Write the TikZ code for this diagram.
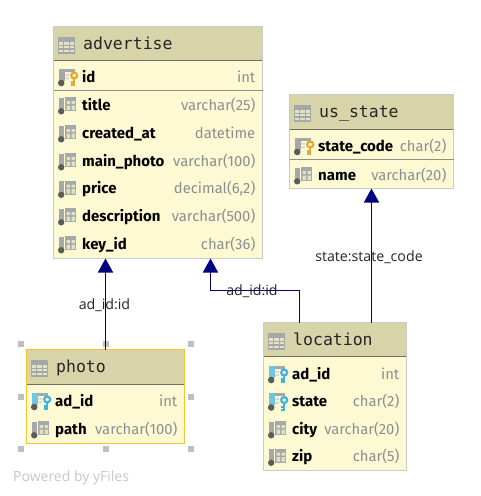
\documentclass[tikz,border=0pt]{standalone}
\usepackage{fontspec}
\setmainfont{Fira Sans}
\setmonofont{DejaVu Sans Mono}
\newfontfamily\labelfont{Open Sans}
\definecolor{headfill}{HTML}{D6D4A8}
\definecolor{bodyfill}{HTML}{FDF9D2}
\definecolor{tableedge}{HTML}{C8CBC8}
\definecolor{headline}{HTML}{6E6E62}
\definecolor{sepline}{HTML}{8E8E82}
\definecolor{picked}{HTML}{F5C52C}
\definecolor{typegray}{HTML}{8A8F92}
\definecolor{arrowblue}{HTML}{000080}
\definecolor{icongray}{HTML}{A4A8A6}
\definecolor{icondot}{HTML}{5C5C58}
\definecolor{pkkey}{HTML}{E3A73A}
\definecolor{fkkey}{HTML}{3FB4E0}
\definecolor{fkbar}{HTML}{6FC6E4}
\usetikzlibrary{arrows.meta}
\tikzset{
  tablebox/.style={draw=tableedge,fill=bodyfill,line width=1pt,inner sep=0pt,outer sep=0pt},
  headbox/.style={fill=headfill,inner sep=0pt,outer sep=0pt},
  headtext/.style={anchor=base west,inner sep=0pt,font=\ttfamily\fontsize{16.5}{16.5}\selectfont,text=black!85},
  fieldtext/.style={anchor=base west,inner sep=0pt,font=\bfseries\fontsize{15}{15}\selectfont},
  typetext/.style={anchor=base east,inner sep=0pt,font=\fontsize{14.8}{14.8}\selectfont,text=typegray},
  linktext/.style={inner sep=0pt,font=\labelfont\fontsize{14.2}{14.2}\selectfont,text=black!85},
  link/.style={draw=arrowblue,line width=1.6pt,-{Triangle[width=15pt,length=14pt]}},
  handle/.style={fill=black!25,draw=none,minimum size=6pt,inner sep=0pt},
  plainfield/.pic={
    \fill[icongray] (-8.7,-7.5) rectangle (-3.9,4);
    \fill[icondot] (-6.8,6.3) circle (3.2);
    \fill[icongray] (-2.7,-7.7) rectangle (8.3,6.3);
    \fill[bodyfill!70!icongray] (-1.5,-3.8) rectangle (2,-0.8) (3.5,-3.8) rectangle (7.2,-0.8)
      (-1.5,0.6) rectangle (2,5.2) (3.5,0.6) rectangle (7.2,5.2);
  },
  keyfield/.pic={
    \fill[#1] (-8.7,-8.3) rectangle (-3.2,3.7);
    \fill[icondot] (-6.8,6) circle (3.3);
    \fill[icongray] (-2.7,-8.3) rectangle (7,-5.3);
    \fill[icongray!50] (-2.7,-3.2) rectangle (1,-1.4) (-2.7,0.4) rectangle (1,2.2);
  },
  pkfield/.pic={
    \pic {keyfield=icongray};
    \draw[pkkey,line width=2.2pt] (6.2,-1.5) circle (3);
    \draw[pkkey,line width=2.4pt] (6.2,1.5) -- (6.2,9) (6.2,5.5) -- (3,5.5) (6.2,8.2) -- (3,8.2);
  },
  fkfield/.pic={
    \pic {keyfield=fkbar};
    \draw[fkkey,line width=2.2pt] (6.2,-1.5) circle (3);
    \draw[fkkey,line width=2.4pt] (6.2,1.5) -- (6.2,9) (6.2,5.5) -- (3,5.5) (6.2,8.2) -- (3,8.2);
  },
  tablelogo/.pic={
    \fill[icongray] (0,0) rectangle (17.5,17);
    \foreach \gx in {1,6.8,12.5} \foreach \gy in {5.5,9.3,13}
      \fill[headfill!65!white] (\gx,\gy) rectangle +(4.2,2.5);
  }
}
% table: name, left, top, right, bottom, header bottom, title
\newcommand{\dbtable}[7]{
  \node[tablebox,minimum width=#4pt-#2pt,minimum height=#5pt-#3pt] (#1) at ({(#2+#4)/2},{(#3+#5)/2}) {};
  \node[headbox,minimum width=#4pt-#2pt-1pt,minimum height=#6pt-#3pt-0.5pt] (#1-head) at ({(#2+#4)/2},{(#3+#6)/2+0.25}) {};
  \draw[headline,line width=1pt] (#1-head.south west) -- (#1-head.south east);
  \pic at (#2+4,#3+10) {tablelogo};
  \node[headtext] (#1-title) at (#2+29.5,#3+22.5) {#7};
}
% row of a table: table, left, right, y, number, name, type, icon
\newcommand{\dbfield}[8]{
  \pic at (#2+14.5,#4) {#8};
  \node[fieldtext] (#1-#5) at (#2+28.5,#4+5) {#6};
  \node[typetext] (#1-#5-type) at (#3-7,#4+5) {#7};
}
\begin{document}
\begin{tikzpicture}[x=1pt,y=-1pt]
\useasboundingbox (0,0) rectangle (480,496);
\fill[white] (0,0) rectangle (480,496);

% advertise
\dbtable{advertise}{53.5}{26.5}{262.5}{258.5}{60.5}{advertise}
\draw[sepline,line width=1pt] (advertise.west |- 0,90.5) -- (advertise.east |- 0,90.5);
\foreach \fname/\ftype/\fy/\ficon [count=\fnum] in {id/int/77/pkfield,title/varchar(25)/105/plainfield,
    created\_at/datetime/133/plainfield,main\_photo/varchar(100)/161/plainfield,
    price/{decimal(6,2)}/188.5/plainfield,description/varchar(500)/216/plainfield,
    key\_id/char(36)/244/plainfield}
  {\dbfield{advertise}{53.5}{262.5}{\fy}{\fnum}{\fname}{\ftype}{\ficon}}

% us_state
\dbtable{usstate}{289.5}{94.5}{453.5}{188.5}{129.5}{us\_state}
\draw[sepline,line width=1pt] (usstate.west |- 0,159.5) -- (usstate.east |- 0,159.5);
\foreach \fname/\ftype/\fy/\ficon [count=\fnum] in {state\_code/char(2)/146/pkfield,name/varchar(20)/175/plainfield}
  {\dbfield{usstate}{289.5}{453.5}{\fy}{\fnum}{\fname}{\ftype}{\ficon}}

% location
\dbtable{location}{263.5}{322.5}{406.5}{470.5}{356.5}{location}
\foreach \fname/\ftype/\fy/\ficon [count=\fnum] in {ad\_id/int/374/fkfield,state/char(2)/401.5/fkfield,
    city/varchar(20)/429/plainfield,zip/char(5)/456.5/plainfield}
  {\dbfield{location}{263.5}{406.5}{\fy}{\fnum}{\fname}{\ftype}{\ficon}}

% photo, the selected one
\dbtable{photo}{26.5}{349.5}{184.5}{443.5}{384.5}{photo}
\draw[picked,line width=1pt] (photo.south west) rectangle (photo.north east);
\foreach \fname/\ftype/\fy/\ficon [count=\fnum] in {ad\_id/int/401/fkfield,path/varchar(100)/429/plainfield}
  {\dbfield{photo}{26.5}{184.5}{\fy}{\fnum}{\fname}{\ftype}{\ficon}}
\foreach \hname/\hx/\hy in {nw/20.5/344,n/105.5/344,ne/190.5/344,w/20.5/396.5,e/190.5/396.5,sw/20.5/449,s/105.5/449,se/190.5/449}
  \node[handle] (handle-\hname) at (\hx,\hy) {};

% references
\coordinate (adbend) at (299.5,290.5);
\coordinate (adtarget) at (210.5,258.5);
\draw[link] (photo.north) -- (advertise.south -| photo.north);
\draw[link] (location.north west -| adbend) -- (adbend) -| (adtarget);
\draw[link] (location.north -| usstate.south) -- (usstate.south);

\node[linktext] (photolabel) at (104.5,305) {ad\_id:id};
\node[linktext] (locationlabel) at (252,291) {ad\_id:id};
\node[linktext] (statelabel) at (369,257) {state:state\_code};
\node[anchor=base west,inner sep=0pt,text=black!22,font=\labelfont\fontsize{14}{14}\selectfont] (poweredby) at (13,481) {Powered by yFiles};
\end{tikzpicture}
\end{document}
